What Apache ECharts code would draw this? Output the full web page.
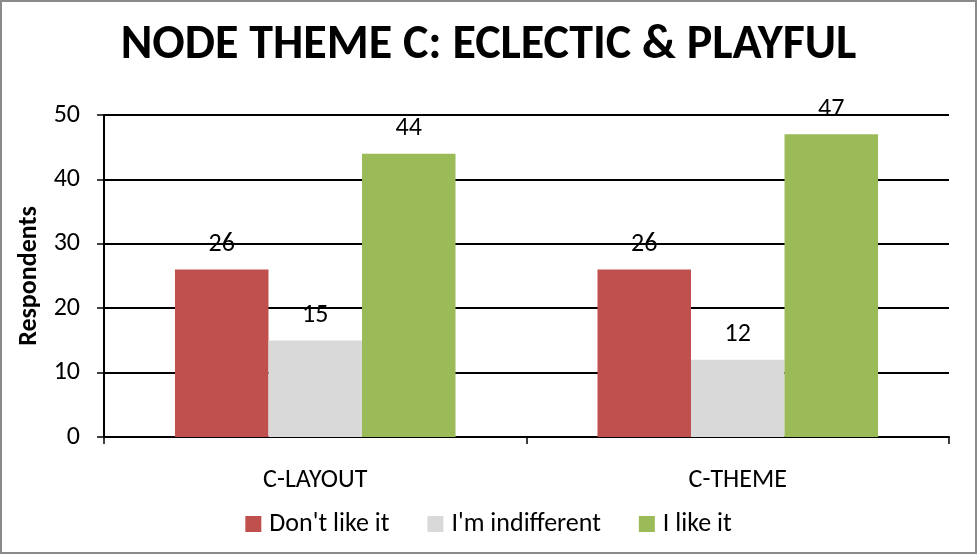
<!DOCTYPE html>
<html>
<head>
<meta charset="utf-8">
<script src="https://cdn.jsdelivr.net/npm/echarts@6/dist/echarts.min.js"></script>
<style>
  html, body { margin: 0; padding: 0; background: #fff; }
  #chart { width: 977px; height: 554px; box-sizing: border-box; border: 2px solid #8a8a8a; }
</style>
</head>
<body>
<div id="chart"></div>
<script>
const categories = ['C-LAYOUT', 'C-THEME'];
const seriesNames = ["Don't like it", "I'm indifferent", 'I like it'];
const dontLike = [26, 26];
const indifferent = [15, 12];
const likeIt = [44, 47];
const colors = ['#C0504D', '#D9D9D9', '#9BBB59'];
const titleText = 'NODE THEME C: ECLECTIC & PLAYFUL';
const yAxisName = 'Respondents';

const font = 'Calibri, Carlito, Lato, "Open Sans", "Liberation Sans", sans-serif';
const chart = echarts.init(document.getElementById('chart'));
const values = [dontLike, indifferent, likeIt];

chart.setOption({
  animation: false,
  title: {
    text: titleText,
    left: 'center',
    top: 15,
    textStyle: { fontFamily: font, fontWeight: 'bold', fontSize: 48, color: '#000' }
  },
  legend: {
    bottom: 10,
    left: 'center',
    itemWidth: 16,
    itemHeight: 16,
    itemGap: 38,
    icon: 'rect',
    textStyle: { fontFamily: font, fontSize: 26, color: '#000', padding: [0, 0, 0, 3] },
    data: seriesNames
  },
  grid: { left: 102, right: 26, top: 113, bottom: 115, containLabel: false },
  xAxis: {
    type: 'category',
    data: categories,
    axisLine: { lineStyle: { color: '#000', width: 2 } },
    axisTick: { show: true, length: 7, lineStyle: { color: '#000', width: 1.5 } },
    axisLabel: { fontFamily: font, fontSize: 26, color: '#000', margin: 30 }
  },
  yAxis: {
    type: 'value',
    min: 0,
    max: 50,
    interval: 10,
    name: yAxisName,
    nameLocation: 'middle',
    nameGap: 57,
    nameTextStyle: { fontFamily: font, fontWeight: 'bold', fontSize: 26, color: '#000' },
    axisLine: { show: true, lineStyle: { color: '#000', width: 2 } },
    axisTick: { show: true, length: 7, lineStyle: { color: '#000', width: 1.5 } },
    axisLabel: { fontFamily: font, fontSize: 26, color: '#000', margin: 24 },
    splitLine: { lineStyle: { color: '#000', width: 2 } }
  },
  series: seriesNames.map((name, i) => ({
    name,
    type: 'bar',
    data: values[i],
    barGap: '0%',
    barCategoryGap: '33.6%',
    itemStyle: { color: colors[i] },
    label: {
      show: true,
      position: 'top',
      distance: 12,
      fontFamily: font,
      fontSize: 26,
      color: '#000'
    }
  }))
});
</script>
</body>
</html>
